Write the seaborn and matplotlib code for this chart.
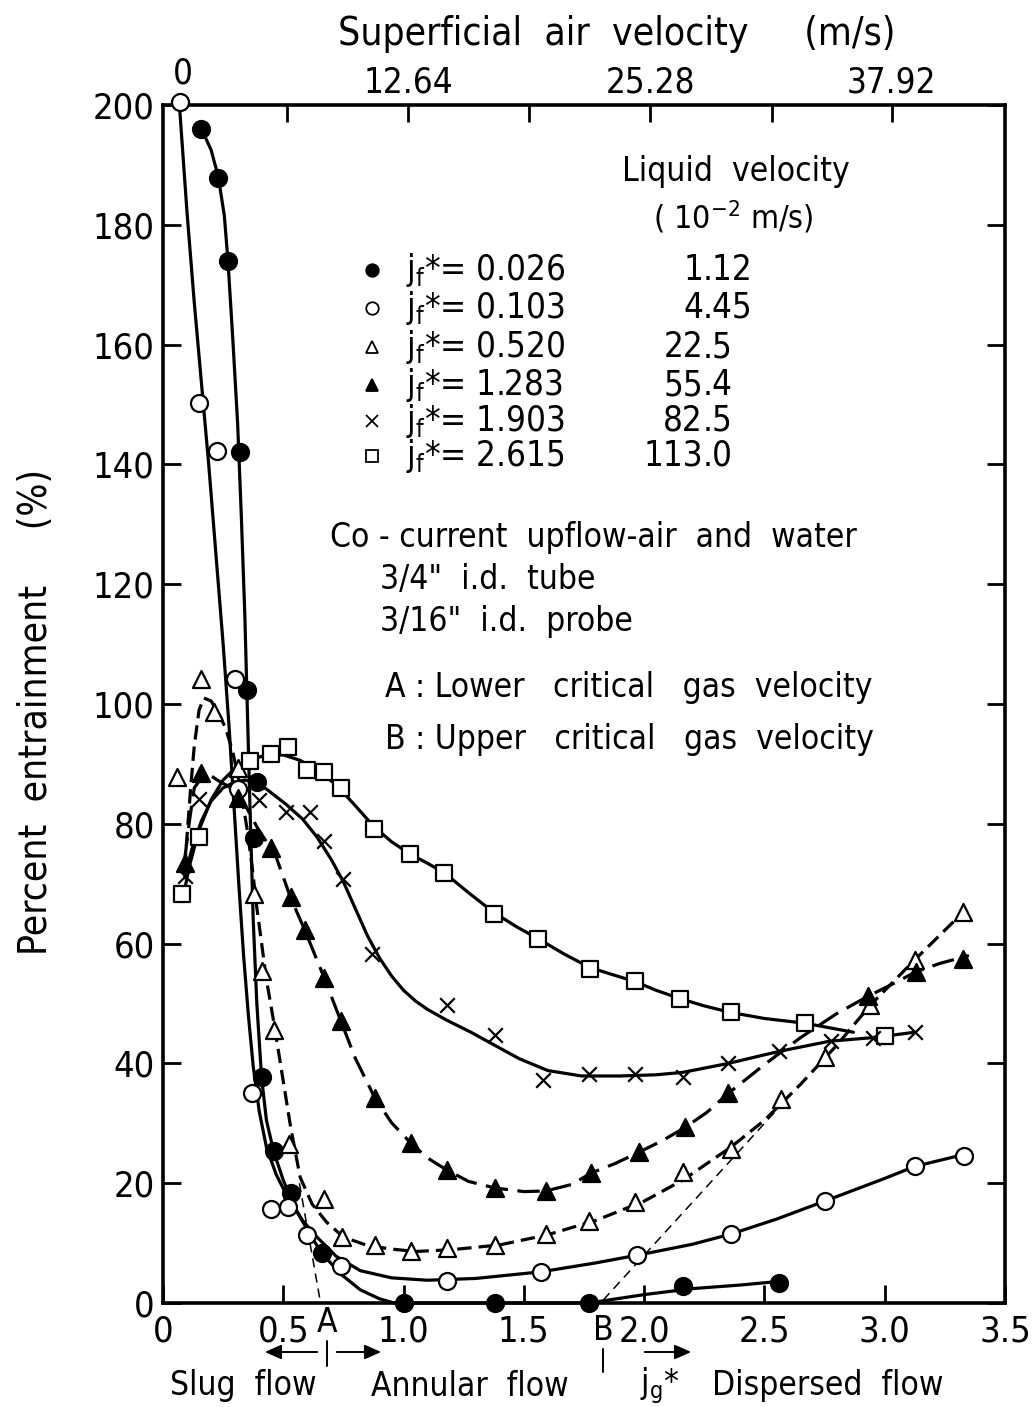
import numpy as np
import pandas as pd
import matplotlib
matplotlib.use("Agg")
import matplotlib.pyplot as plt
from matplotlib.lines import Line2D
from matplotlib.patches import FancyArrowPatch
import seaborn as sns

# ---------------- data: j_g* (x) vs percent entrainment (y) ----------------
# measured points per liquid flux j_f*
pts_026_x = [0.16, 0.23, 0.27, 0.32, 0.35, 0.39, 0.38, 0.41, 0.46, 0.53, 0.66, 1.00, 1.38, 1.77, 2.16, 2.56]
pts_026_y = [196, 187.8, 174, 142, 102.3, 87, 77.7, 37.7, 25.3, 18.3, 8.3, 0, 0, 0, 2.8, 3.3]

pts_103_x = [0.07, 0.15, 0.225, 0.30, 0.31, 0.37, 0.45, 0.52, 0.60, 0.74, 1.18, 1.57, 1.97, 2.36, 2.75, 3.125, 3.33]
pts_103_y = [200.5, 150.2, 142.2, 104.2, 85.8, 35, 15.7, 16, 11.3, 6.2, 3.7, 5.2, 8, 11.5, 17, 22.8, 24.5]

pts_520_x = [0.06, 0.16, 0.21, 0.31, 0.38, 0.41, 0.46, 0.525, 0.67, 0.745, 0.88, 1.03, 1.18, 1.38, 1.59,
             1.77, 1.96, 2.16, 2.36, 2.57, 2.75, 2.94, 3.125, 3.325]
pts_520_y = [87.8, 104.2, 98.7, 89.3, 68.3, 55.5, 45.5, 26.5, 17.3, 11, 9.7, 8.7, 9.1, 9.7, 11.5,
             13.7, 16.8, 21.8, 25.7, 34, 41, 49.7, 57.3, 65.2]

pts_1283_x = [0.09, 0.16, 0.31, 0.45, 0.53, 0.59, 0.67, 0.74, 0.88, 1.03, 1.18, 1.38, 1.59, 1.78, 1.98,
              2.17, 2.35, 2.93, 3.13, 3.325]
pts_1283_y = [73.5, 88.5, 84.3, 76, 67.7, 62.2, 54.3, 47, 34.3, 26.7, 22.2, 19.2, 18.7, 21.7, 25.2,
              29.3, 35, 51.2, 55.3, 57.5]

pts_1903_x = [0.09, 0.15, 0.40, 0.51, 0.61, 0.67, 0.75, 0.87, 1.18, 1.38, 1.58, 1.77, 1.96, 2.16, 2.35,
              2.56, 2.775, 2.95, 3.125]
pts_1903_y = [71.3, 84.2, 84, 82, 82, 77.2, 70.8, 58.3, 49.7, 44.7, 37.2, 38.2, 38.3, 37.8, 40,
              42, 43.8, 44.2, 45.2]

pts_2615_x = [0.08, 0.15, 0.36, 0.45, 0.52, 0.60, 0.67, 0.74, 0.875, 1.025, 1.17, 1.375, 1.56, 1.775,
              1.96, 2.15, 2.36, 2.67, 3.0]
pts_2615_y = [68.3, 77.8, 90.5, 91.7, 92.8, 89, 88.7, 86, 79.2, 75, 71.8, 65, 60.8, 55.8,
              53.7, 50.8, 48.5, 46.7, 44.5]

# hand-faired curves through each set
fit_026_x = [0.16, 0.20, 0.23, 0.255, 0.27, 0.29, 0.31, 0.325, 0.34, 0.35, 0.358, 0.365, 0.375, 0.39,
             0.41, 0.43, 0.46, 0.50, 0.55, 0.60, 0.66, 0.74, 0.82, 0.90, 0.96, 1.2, 1.5, 1.77, 2.0,
             2.2, 2.4, 2.56]
fit_026_y = [196, 192.5, 188, 181.5, 174, 161, 147, 132, 115, 100, 88, 78, 64, 50,
             37.5, 30.5, 25.3, 20.5, 15.8, 12.2, 8.3, 4.8, 2.2, 0.7, 0, 0, 0, 0, 1.4,
             2.4, 3.0, 3.6]

fit_103_x = [0.07, 0.10, 0.13, 0.16, 0.19, 0.22, 0.25, 0.275, 0.295, 0.315, 0.335, 0.355, 0.375, 0.40,
             0.43, 0.47, 0.52, 0.58, 0.64, 0.72, 0.82, 0.95, 1.1, 1.3, 1.57, 1.8, 2.0, 2.2, 2.36,
             2.55, 2.75, 3.0, 3.125, 3.33]
fit_103_y = [199, 182, 167, 153.5, 140, 125, 110, 96, 83, 70, 58, 48, 39.5, 32,
             26, 21.5, 17.5, 13.8, 11, 7.8, 5.4, 4.2, 3.8, 4.1, 5.2, 6.7, 8.2, 9.8, 11.5,
             14, 17, 20.8, 22.8, 24.8]

fit_520_x = [0.09, 0.10, 0.115, 0.13, 0.15, 0.17, 0.20, 0.23, 0.26, 0.29, 0.31, 0.33, 0.35, 0.37, 0.39,
             0.41, 0.43, 0.46, 0.49, 0.53, 0.57, 0.62, 0.68, 0.75, 0.85, 0.95, 1.05, 1.2, 1.4, 1.6,
             1.8, 2.0, 2.16, 2.36, 2.5, 2.65, 2.8, 2.94, 3.125, 3.325]
fit_520_y = [72.7, 78, 86, 93, 99, 101, 100.5, 98.5, 96, 92, 88.3, 84, 79, 73, 66,
             60, 54, 47, 39.5, 29.5, 21, 16.5, 13.5, 11, 9.6, 9, 8.6, 8.9, 9.7, 11.4,
             13.8, 17, 20.5, 26, 30.5, 36.5, 43, 49.7, 57.3, 65.2]

fit_1283_x = [0.09, 0.11, 0.13, 0.16, 0.20, 0.23, 0.27, 0.31, 0.35, 0.39, 0.43, 0.47, 0.53, 0.59, 0.67,
              0.74, 0.80, 0.88, 0.95, 1.03, 1.10, 1.18, 1.27, 1.38, 1.5, 1.59, 1.7, 1.78, 1.88, 1.98,
              2.08, 2.17, 2.26, 2.35, 2.5, 2.65, 2.8, 2.93, 3.05, 3.13, 3.23, 3.35]
fit_1283_y = [74, 80.5, 86, 87.7, 88, 87.2, 86.3, 85, 82.5, 79.5, 77, 74.5, 67.7, 62.2, 54.3,
              47, 40.8, 34.3, 30.1, 26.7, 24.2, 22.2, 20.3, 19.2, 18.6, 18.7, 19.8, 21.7, 23.3, 25.2,
              27.2, 29.3, 31.8, 35, 39.8, 44.3, 48.3, 51.2, 53.6, 55.3, 56.7, 58]

fit_1903_x = [0.09, 0.12, 0.16, 0.20, 0.25, 0.30, 0.34, 0.38, 0.43, 0.51, 0.58, 0.64, 0.70, 0.75, 0.80,
              0.85, 0.90, 0.95, 1.0, 1.05, 1.1, 1.18, 1.28, 1.38, 1.48, 1.6, 1.74, 1.9, 2.05, 2.16,
              2.35, 2.56, 2.77, 2.95, 3.125]
fit_1903_y = [71, 75.8, 80.5, 83.8, 86, 87, 87.3, 87, 85.8, 83.3, 80.8, 77.8, 74, 70.3, 65.8,
              61.3, 57.6, 54.6, 52.2, 50.4, 49.0, 47.2, 45.2, 43, 40.8, 38.8, 37.9, 37.9, 38.1, 38.5,
              40, 42, 43.7, 44.3, 45.2]

fit_2615_x = [0.08, 0.11, 0.15, 0.2, 0.25, 0.3, 0.36, 0.42, 0.5, 0.57, 0.64, 0.72, 0.8, 0.875, 0.95,
              1.025, 1.1, 1.17, 1.27, 1.375, 1.47, 1.56, 1.67, 1.775, 1.87, 1.96, 2.05, 2.15, 2.25,
              2.36, 2.5, 2.67, 2.87]
fit_2615_y = [67, 73, 79, 84, 87.3, 89.3, 90.6, 91.4, 91.5, 90.6, 89, 86.5, 83, 79.6, 77,
              75, 73.4, 71.8, 68.5, 65.2, 62.8, 60.8, 58.2, 56, 54.8, 53.7, 52.2, 50.8, 49.6,
              48.5, 47.5, 46.7, 45.2]

# critical gas velocity construction lines (A: lower, B: upper)
line_a_x = [0.567, 0.655]
line_a_y = [20, 0]
line_b_x = [1.83, 2.58]
line_b_y = [0.5, 33.5]

# legend / annotation text
jf_labels = ["0.026", "0.103", "0.520", "1.283", "1.903", "2.615"]
liquid_vel = ["1.12", "4.45", "22.5", "55.4", "82.5", "113.0"]
x_ticks = [0, 0.5, 1.0, 1.5, 2.0, 2.5, 3.0, 3.5]
x_ticklabels = ["0", "0.5", "1.0", "1.5", "2.0", "2.5", "3.0", "3.5"]
y_ticks = [0, 20, 40, 60, 80, 100, 120, 140, 160, 180, 200]
top_labels = ["12.64", "25.28", "37.92"]

# ---------------- styling ----------------
sns.set_theme(style="white")
plt.rcParams["font.family"] = ["DejaVu Sans"]
plt.rcParams["font.stretch"] = "condensed"
plt.rcParams["mathtext.fontset"] = "dejavusans"
plt.rcParams["text.color"] = "black"

W, H = 1032, 1407
fig = plt.figure(figsize=(W / 100, H / 100), dpi=100)
fig.patch.set_facecolor("white")
ax = fig.add_axes([163 / W, 1 - 1303 / H, (1005 - 163) / W, (1303 - 105) / H])
ax.set_facecolor("white")


def fx(px):
    return px / W


def fy(py):
    return 1 - py / H


LW = 2.3
solid = "-"
dash_short = (0, (4.5, 2.2))
dash_long = (0, (7, 3))

curves = [
    (fit_026_x, fit_026_y, solid),
    (fit_103_x, fit_103_y, solid),
    (fit_520_x, fit_520_y, dash_short),
    (fit_1283_x, fit_1283_y, dash_long),
    (fit_1903_x, fit_1903_y, solid),
    (fit_2615_x, fit_2615_y, solid),
]
for cx, cy, ls in curves:
    sns.lineplot(x=cx, y=cy, sort=False, estimator=None, color="black", lw=LW,
                 linestyle=ls, ax=ax, zorder=3, clip_on=False)

for lx, ly in [(line_a_x, line_a_y), (line_b_x, line_b_y)]:
    sns.lineplot(x=lx, y=ly, sort=False, estimator=None, color="black", lw=1.1,
                 linestyle=(0, (6, 4)), ax=ax, zorder=2)

MS = 150
point_sets = [
    (pts_026_x, pts_026_y, "o", "black", MS),
    (pts_103_x, pts_103_y, "o", "white", MS),
    (pts_520_x, pts_520_y, "^", "white", MS),
    (pts_1283_x, pts_1283_y, "^", "black", MS),
    (pts_2615_x, pts_2615_y, "s", "white", 140),
]
for px_, py_, mk, fc, s in point_sets:
    sns.scatterplot(x=px_, y=py_, marker=mk, s=s, color=fc, edgecolor="black",
                    linewidth=1.6, ax=ax, zorder=5, clip_on=False)
sns.scatterplot(x=pts_1903_x, y=pts_1903_y, marker="x", s=110, color="black",
                linewidth=1.6, ax=ax, zorder=5, clip_on=False)

# ---------------- axes ----------------
ax.set_xlim(0, 3.5)
ax.set_ylim(0, 200)
ax.set_xticks(x_ticks)
ax.set_xticklabels(x_ticklabels)
ax.set_yticks(y_ticks)
ax.set_yticklabels([str(v) for v in y_ticks])
ax.tick_params(axis="both", direction="in", length=13, width=2, colors="black",
               labelsize=26, right=True, top=False, left=True, bottom=True)
ax.tick_params(axis="x", pad=8)
ax.tick_params(axis="y", pad=6)
for sp in ax.spines.values():
    sp.set_visible(True)
    sp.set_color("black")
    sp.set_linewidth(2.6)
ax.set_xlabel("")
ax.set_ylabel("")

# top axis: superficial air velocity (m/s)
ax2 = ax.twiny()
ax2.set_xlim(ax.get_xlim())
ax2.set_xticks([1.02, 2.025, 3.03])
ax2.set_xticklabels(top_labels)
ax2.set_xticks([0.515, 1.52, 2.53], minor=True)
ax2.tick_params(axis="x", which="both", direction="in", length=12, width=2,
                labelsize=25, pad=4, colors="black")
for sp in ax2.spines.values():
    sp.set_visible(False)
ax2.grid(False)
ax.grid(False)
fig.text(fx(183), fy(74), "0", fontsize=25, ha="center", va="center")

fig.text(fx(617), fy(34), "Superficial  air  velocity     (m/s)", fontsize=28,
         ha="center", va="center")
fig.text(fx(36), fy(712), "Percent  entrainment     (%)", fontsize=28, rotation=90,
         ha="center", va="center")

# ---------------- legend block ----------------
fig.text(fx(736), fy(171), "Liquid  velocity", fontsize=24, ha="center", va="center")
fig.text(fx(733), fy(217), "( 10$^{-2}$ m/s)", fontsize=23, ha="center", va="center")

row_y = [270, 308, 347, 385, 421, 456]
legend_style = [("o", "black"), ("o", "white"), ("^", "white"), ("^", "black"),
                ("x", "black"), ("s", "white")]
for ry, (mk, fc), jf, lv in zip(row_y, legend_style, jf_labels, liquid_vel):
    fig.add_artist(Line2D([fx(372)], [fy(ry)], marker=mk, markersize=9 if mk != "x" else 8,
                          markerfacecolor=fc, markeredgecolor="black", markeredgewidth=1.3,
                          color="black", linestyle="none", transform=fig.transFigure))
    fig.text(fx(406), fy(ry), r"j$_{\mathregular{f}}$*= " + jf, fontsize=25,
             ha="left", va="center")
    whole, frac = lv.split(".")
    fig.text(fx(703), fy(ry), whole, fontsize=25, ha="right", va="center")
    fig.text(fx(703), fy(ry), "." + frac, fontsize=25, ha="left", va="center")

fig.text(fx(330), fy(537), "Co - current  upflow-air  and  water", fontsize=24,
         ha="left", va="center")
fig.text(fx(380), fy(580), "3/4\"  i.d.  tube", fontsize=24, ha="left", va="center")
fig.text(fx(380), fy(621), "3/16\"  i.d.  probe", fontsize=24, ha="left", va="center")
fig.text(fx(385), fy(688), "A : Lower   critical   gas  velocity", fontsize=24,
         ha="left", va="center")
fig.text(fx(385), fy(740), "B : Upper   critical   gas  velocity", fontsize=24,
         ha="left", va="center")

# ---------------- flow regime marks under the axis ----------------
fig.text(fx(327), fy(1322), "A", fontsize=24, ha="center", va="center")
fig.text(fx(603), fy(1330), "B", fontsize=24, ha="center", va="center")
for bx, y0, y1 in [(327, 1341, 1366), (603, 1349, 1372)]:
    fig.add_artist(Line2D([fx(bx), fx(bx)], [fy(y0), fy(y1)], color="black", lw=1.4,
                          transform=fig.transFigure))
arrow_kw = dict(arrowstyle="-|>,head_length=0.5,head_width=0.22", color="black", lw=1.4)
for x_from, x_to in [(320, 262), (334, 384), (642, 694)]:
    fig.add_artist(FancyArrowPatch((fx(x_from), fy(1352)), (fx(x_to), fy(1352)),
                                   transform=fig.transFigure, mutation_scale=20, **arrow_kw))

fig.text(fx(243), fy(1386), "Slug  flow", fontsize=24, ha="center", va="center")
fig.text(fx(470), fy(1386), "Annular  flow", fontsize=24, ha="center", va="center")
fig.text(fx(660), fy(1386), r"j$_{\mathregular{g}}$*", fontsize=24, ha="center", va="center")
fig.text(fx(828), fy(1386), "Dispersed  flow", fontsize=24, ha="center", va="center")

fig.savefig("out.png", dpi=100, facecolor="white")
